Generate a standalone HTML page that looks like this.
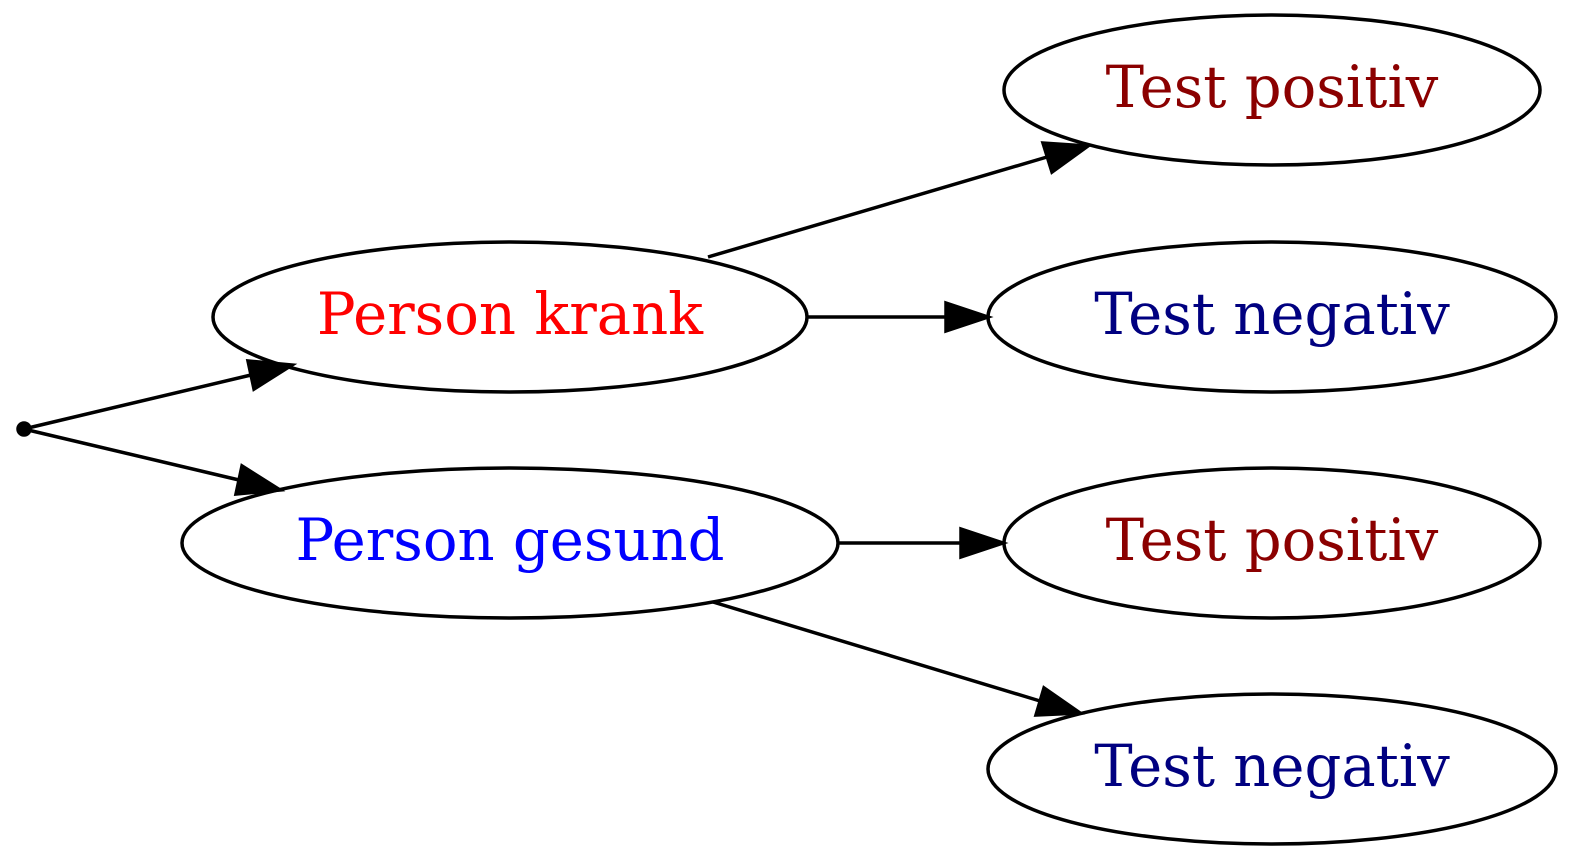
<!DOCTYPE html>
<html><head><meta charset="utf-8"><style>html,body{margin:0;padding:0;background:#fff}svg{display:block}</style></head>
<body>
<svg width="1572" height="858" viewBox="0 0 1572 858" xmlns="http://www.w3.org/2000/svg">
<g fill="none" stroke="#000" stroke-width="3.5">
<ellipse cx="1272" cy="90" rx="268" ry="75"/>
<ellipse cx="1272" cy="317" rx="284" ry="75"/>
<ellipse cx="510" cy="317" rx="297" ry="75"/>
<ellipse cx="510" cy="543" rx="328" ry="75"/>
<ellipse cx="1272" cy="543" rx="268" ry="75"/>
<ellipse cx="1272" cy="769" rx="284" ry="75"/>
<line x1="708" y1="257" x2="1047" y2="157"/>
<line x1="808" y1="317" x2="946" y2="317"/>
<line x1="839" y1="543" x2="961" y2="543"/>
<line x1="713" y1="602" x2="1040" y2="701"/>
<line x1="28" y1="428" x2="251" y2="375"/>
<line x1="28" y1="430" x2="239" y2="480"/>
</g>
<g fill="#000" stroke="#000" stroke-width="3.5">
<ellipse cx="24" cy="429" rx="6" ry="6"/>
<polygon points="1088,146 1052,172 1043,143"/>
<polygon points="988,317 946,303 946,331"/>
<polygon points="1003,543 961,529 961,557"/>
<polygon points="1080,713 1036,715 1044,688"/>
<polygon points="292,365 254,389 248,361"/>
<polygon points="280,490 236,494 242,466"/>
</g>
<g font-family="DejaVu Serif, serif" font-size="57.6" text-anchor="middle">
<text x="1272" y="107" fill="#8b0000">Test positiv</text>
<text x="1272" y="334" fill="#000080">Test negativ</text>
<text x="510" y="334" fill="#ff0000">Person krank</text>
<text x="510" y="560" fill="#0000ff">Person gesund</text>
<text x="1272" y="560" fill="#8b0000">Test positiv</text>
<text x="1272" y="786" fill="#000080">Test negativ</text>
</g>
</svg>
</body></html>
